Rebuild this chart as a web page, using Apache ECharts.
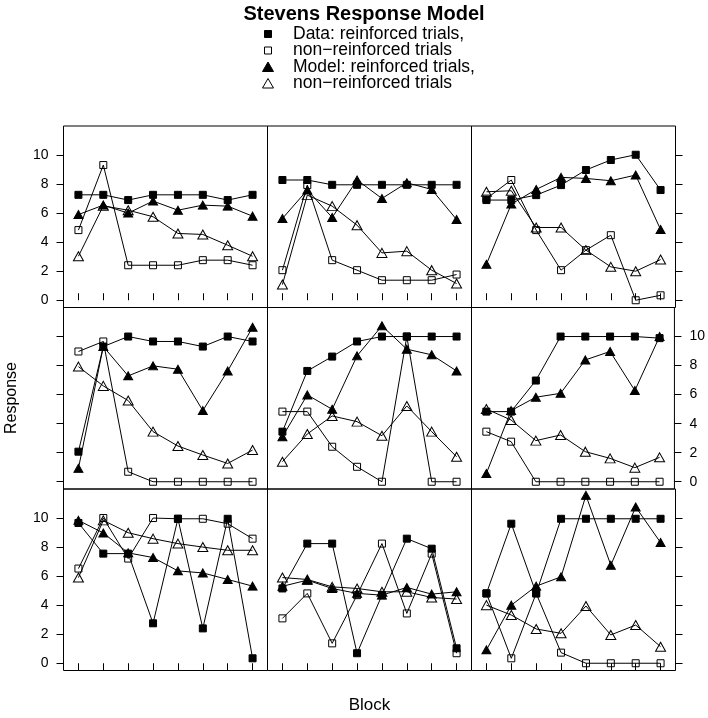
<!DOCTYPE html>
<html>
<head>
<meta charset="utf-8">
<script src="https://cdn.jsdelivr.net/npm/echarts@6/dist/echarts.min.js"></script>
<style>html,body{margin:0;padding:0;background:#fff}#c{width:708px;height:718px}</style>
</head>
<body>
<div id="c"></div>
<script>
// Blocks (x values) and y tick labels
const blocks = [1, 2, 3, 4, 5, 6, 7, 8];
const yTicks = [0, 2, 4, 6, 8, 10];

// Panels listed row by row, top-left first
const dataReinforced = [
  [7.26, 7.26, 6.9, 7.26, 7.26, 7.26, 6.9, 7.26],
  [8.28, 8.28, 7.95, 7.95, 7.95, 7.95, 7.95, 7.95],
  [6.9, 6.9, 7.24, 7.93, 8.97, 9.66, 10.02, 7.59],
  [2.07, 9.31, 10, 9.66, 9.66, 9.31, 10, 9.66],
  [3.45, 7.63, 8.62, 9.66, 10, 10, 10, 10],
  [4.83, 4.83, 6.97, 10, 10, 10, 10, 9.89],
  [9.66, 7.55, 7.55, 2.75, 9.95, 2.4, 9.95, 0.34],
  [5.15, 8.24, 8.24, 0.69, 4.69, 8.58, 7.89, 1.03],
  [4.81, 9.61, 4.81, 9.95, 9.95, 9.95, 9.95, 9.95]
];
const dataNonReinforced = [
  [4.83, 9.31, 2.41, 2.41, 2.41, 2.76, 2.76, 2.41],
  [2.07, 7.93, 2.76, 2.07, 1.38, 1.38, 1.38, 1.77],
  [7.0, 8.28, 4.83, 2.07, 3.45, 4.48, 0.0, 0.34],
  [8.97, 9.66, 0.69, 0, 0, 0, 0, 0],
  [4.83, 4.83, 2.41, 1.03, 0, 10, 0, 0],
  [3.45, 2.76, 0, 0, 0, 0, 0, 0],
  [6.52, 10, 7.21, 10, 9.95, 9.95, 9.61, 8.58],
  [3.09, 4.81, 1.37, 4.69, 8.24, 3.43, 7.55, 0.69],
  [4.81, 0.34, 4.81, 0.73, 0, 0, 0, 0]
];
const modelReinforced = [
  [5.9, 6.55, 6.0, 6.83, 6.2, 6.55, 6.48, 5.79],
  [5.63, 7.59, 5.7, 8.28, 7.01, 8.09, 7.63, 5.56],
  [2.48, 6.62, 7.63, 8.46, 8.39, 8.23, 8.62, 4.87],
  [0.92, 9.31, 7.29, 7.98, 7.75, 4.9, 7.63, 10.64],
  [3.1, 5.98, 4.99, 8.67, 10.74, 9.13, 8.74, 7.63],
  [0.57, 4.9, 5.82, 6.09, 8.39, 8.97, 6.28, 10],
  [9.84, 8.97, 7.6, 7.28, 6.36, 6.22, 5.77, 5.31],
  [5.3, 5.72, 5.15, 4.81, 4.69, 5.22, 4.76, 4.92],
  [0.92, 4.0, 5.31, 5.95, 11.56, 6.75, 10.76, 8.31]
];
const modelNonReinforced = [
  [3.03, 6.5, 6.2, 5.75, 4.6, 4.53, 3.79, 3.03],
  [1.08, 7.24, 6.48, 5.17, 3.26, 3.38, 2.07, 1.15],
  [7.47, 7.54, 5.01, 5.01, 3.45, 2.3, 2.0, 2.8],
  [7.93, 6.6, 5.59, 3.45, 2.46, 1.84, 1.26, 2.18],
  [1.38, 3.29, 4.53, 4.14, 3.17, 5.22, 3.45, 1.72],
  [5.01, 4.25, 2.83, 3.22, 2.07, 1.61, 0.97, 1.68],
  [5.9, 9.84, 8.99, 8.58, 8.24, 8.0, 7.78, 7.78],
  [5.9, 5.77, 5.26, 5.15, 4.92, 4.92, 4.53, 4.42],
  [4.0, 3.32, 2.36, 2.06, 3.94, 1.95, 2.63, 1.14]
];

const titleText = 'Stevens Response Model';
const legendLabels = ['Data: reinforced trials,', 'non\u2212reinforced trials', 'Model: reinforced trials,', 'non\u2212reinforced trials'];
const xTitle = 'Block';
const yTitle = 'Response';

const FONT = '"Liberation Sans", Arial, Helvetica, sans-serif';
const colLeft = [63.5, 267.5, 471.5];
const colWidth = 204;
const rowTop = [126, 307.5, 489];
const rowHeight = 181.5;
const TICK = 7;

const grids = [], xAxes = [], yAxes = [], series = [];
for (let p = 0; p < 9; p++) {
  const r = Math.floor(p / 3), c = p % 3;
  grids.push({
    left: colLeft[c], top: rowTop[r], width: colWidth, height: rowHeight,
    show: true, borderColor: '#000', borderWidth: 1, backgroundColor: 'transparent',
    containLabel: false
  });
  const xShow = (r === 0 || r === 2);
  xAxes.push({
    type: 'value', gridIndex: p, min: 0.4, max: 8.6,
    position: r === 0 ? 'top' : 'bottom',
    axisLine: { show: false },
    splitLine: { show: false },
    axisTick: { show: xShow, length: TICK, lineStyle: { color: '#000', width: 1 }, customValues: blocks },
    axisLabel: { show: false, customValues: blocks }
  });
  const yShow = (c === 0 || c === 2);
  const yLabels = (c === 0 && r !== 1) || (c === 2 && r === 1);
  yAxes.push({
    type: 'value', gridIndex: p, min: -0.5, max: 12,
    position: c === 2 ? 'right' : 'left',
    axisLine: { show: false },
    splitLine: { show: false },
    axisTick: { show: yShow, length: TICK, lineStyle: { color: '#000', width: 1 }, customValues: yTicks },
    axisLabel: { show: yLabels, customValues: yTicks, color: '#000', fontSize: 14, fontFamily: FONT, margin: 15 }
  });
  const defs = [
    { arr: dataReinforced, symbol: 'rect', size: 7, fill: '#000', name: 'dr' },
    { arr: dataNonReinforced, symbol: 'rect', size: 7, fill: 'transparent', name: 'dn' },
    { arr: modelReinforced, symbol: 'triangle', size: [9, 8], fill: '#000', name: 'mr' },
    { arr: modelNonReinforced, symbol: 'triangle', size: [10, 9], fill: 'transparent', name: 'mn' }
  ];
  defs.forEach(d => {
    series.push({
      type: 'line', name: d.name + p, xAxisIndex: p, yAxisIndex: p,
      data: blocks.map((b, j) => [b, d.arr[p][j]]),
      symbol: d.symbol, symbolSize: d.size, showAllSymbol: true,
      lineStyle: { color: '#000', width: 1 },
      itemStyle: { color: d.fill, borderColor: '#000', borderWidth: 1 },
      emphasis: { disabled: true }, silent: true, animation: false, clip: false
    });
  });
}

const graphics = [];
graphics.push({ type: 'text', x: 364, y: 14, style: { text: titleText, font: 'bold 20px ' + FONT, fill: '#000', align: 'center', verticalAlign: 'middle' } });
const legY = [34, 50.5, 67, 83.5];
const symX = 268;
graphics.push({ type: 'rect', shape: { x: symX - 3.5, y: legY[0] - 3.5, width: 7, height: 7 }, style: { fill: '#000', stroke: '#000', lineWidth: 1 } });
graphics.push({ type: 'rect', shape: { x: symX - 3.5, y: legY[1] - 3.5, width: 7, height: 7 }, style: { fill: 'none', stroke: '#000', lineWidth: 1 } });
graphics.push({ type: 'polygon', shape: { points: [[symX, legY[2] - 5], [symX - 5.5, legY[2] + 4.5], [symX + 5.5, legY[2] + 4.5]] }, style: { fill: '#000', stroke: '#000', lineWidth: 1 } });
graphics.push({ type: 'polygon', shape: { points: [[symX, legY[3] - 5], [symX - 5.5, legY[3] + 4.5], [symX + 5.5, legY[3] + 4.5]] }, style: { fill: 'none', stroke: '#000', lineWidth: 1 } });
legendLabels.forEach((t, i) => {
  graphics.push({ type: 'text', x: 293, y: legY[i], style: { text: t, font: '17.5px ' + FONT, fill: '#000', align: 'left', verticalAlign: 'middle' } });
});
graphics.push({ type: 'text', x: 369.5, y: 705, style: { text: xTitle, font: '17px ' + FONT, fill: '#000', align: 'center', verticalAlign: 'middle' } });
graphics.push({ type: 'text', x: 12, y: 398, rotation: Math.PI / 2, style: { text: yTitle, font: '16px ' + FONT, fill: '#000', align: 'center', verticalAlign: 'middle' } });

const chart = echarts.init(document.getElementById('c'), null, { renderer: 'canvas' });
chart.setOption({
  animation: false,
  backgroundColor: '#fff',
  grid: grids, xAxis: xAxes, yAxis: yAxes, series: series,
  graphic: graphics
});
</script>
</body>
</html>
